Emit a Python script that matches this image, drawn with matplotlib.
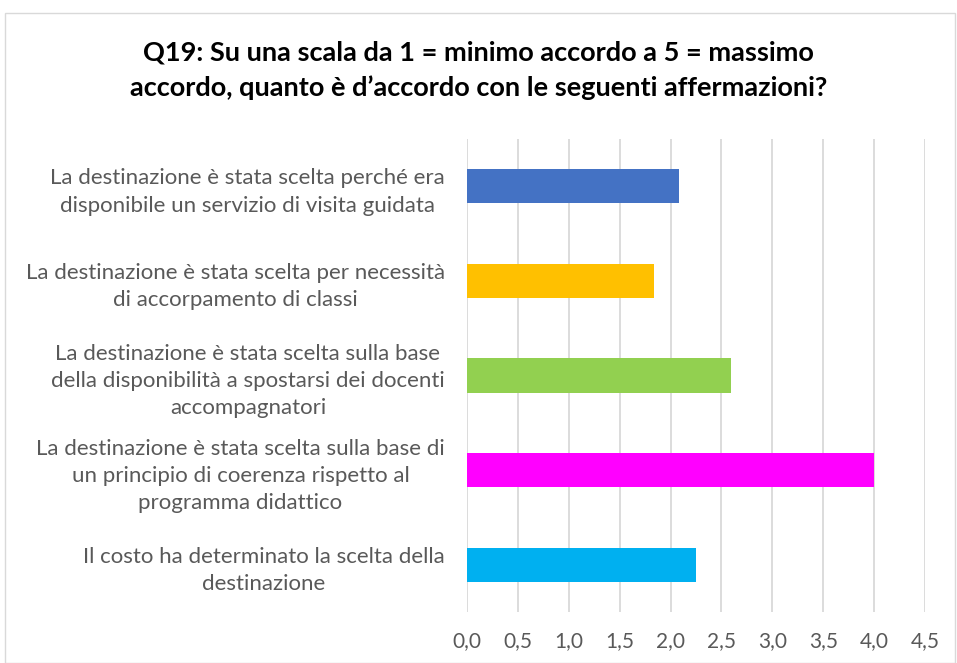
import matplotlib
matplotlib.use("Agg")
from matplotlib import pyplot as plt
from matplotlib.patches import Rectangle
from matplotlib.ticker import FuncFormatter
import numpy as np

plt.rcParams['font.family'] = ['Lato', 'DejaVu Sans']

title = ("Q19: Su una scala da 1 = minimo accordo a 5 = massimo\n"
         "accordo, quanto è d\u2019accordo con le seguenti affermazioni?")

labels = [
    "La destinazione è stata scelta perché era\ndisponibile un servizio di visita guidata",
    "La destinazione è stata scelta per necessità\ndi accorpamento di classi",
    "La destinazione è stata scelta sulla base\ndella disponibilità a spostarsi dei docenti\naccompagnatori",
    "La destinazione è stata scelta sulla base di\nun principio di coerenza rispetto al\nprogramma didattico",
    "Il costo ha determinato la scelta della\ndestinazione",
]
values = [2.08, 1.84, 2.59, 4.0, 2.25]
colors = ["#4472C4", "#FFC000", "#92D050", "#FF00FF", "#00B0F0"]
xticks = [0.0, 0.5, 1.0, 1.5, 2.0, 2.5, 3.0, 3.5, 4.0, 4.5]

W, H = 957, 663
fig = plt.figure(figsize=(W / 100, H / 100), dpi=100)

# outer chart frame
fig.patches.append(Rectangle((5 / W, 0), (W - 7) / W, (H - 13) / H,
                             transform=fig.transFigure, fill=False,
                             edgecolor="#D9D9D9", linewidth=1.0))

ax = fig.add_axes([467 / W, 1 - 612 / H, (925 - 467) / W, (612 - 139) / H])

y = np.arange(len(values))
ax.barh(y, values, height=0.36, color=colors, zorder=3)
ax.set_ylim(len(values) - 0.5, -0.5)
ax.set_xlim(0, 4.5)
ax.set_xticks(xticks)
ax.xaxis.set_major_formatter(FuncFormatter(lambda v, p: ("%.1f" % v).replace(".", ",")))
ax.set_yticks(y)
ax.set_yticklabels(labels, multialignment="center", linespacing=1.45)

ax.grid(axis="x", color="#D9D9D9", linewidth=1.3, zorder=0)
for s in ax.spines.values():
    s.set_visible(False)
ax.tick_params(axis="both", length=0, labelcolor="#595959")
ax.tick_params(axis="y", pad=16, labelsize=16)
ax.tick_params(axis="x", pad=14, labelsize=15)

fig.text(0.5, 1 - 70 / H, title, ha="center", va="center", fontsize=19.5,
         fontweight="bold", color="black", linespacing=1.5)

fig.savefig("out.png", dpi=100)
